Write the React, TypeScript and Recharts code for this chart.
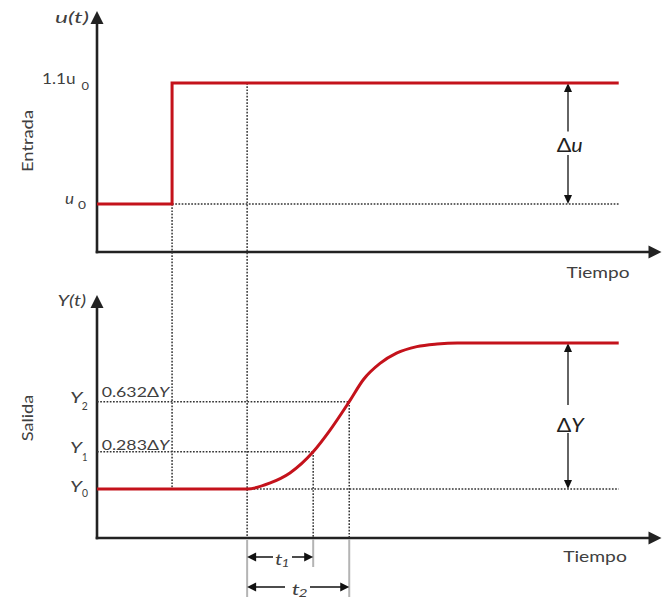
import React from 'react';
import { ComposedChart, Line, XAxis, YAxis, ReferenceLine, ReferenceDot } from 'recharts';

// ---------------- data ----------------
const inputTimes = [0, 1, 1, 6.95];
const inputValues = [1, 1, 1.1, 1.1]; // u0 -> 1.1 u0
const outputTimes = [0, 2, 2.3, 2.57, 2.88, 3.1, 3.36, 3.55, 3.77, 3.99, 4.26, 4.53, 4.8, 6.95];
const outputValues = [0, 0, 0.04, 0.11, 0.255, 0.4, 0.598, 0.75, 0.86, 0.93, 0.975, 0.993, 1, 1];
const stepTime = 1;
const responseStart = 2;
const t1Time = 2.88;
const t2Time = 3.36;
const endTime = 6.95;
const TIME_MAX = 7.5;
const U0 = 1;
const U1 = 1.1;
const Y0 = 0;
const Y1 = 0.255;
const Y2 = 0.598;
const YF = 1;

// ---------------- layout ----------------
const W = 662;
const H = 598;
const PL = 97;
const PR = 660;

function domainFrom(v0: number, p0: number, v1: number, p1: number): [number, number] {
  const k = (p0 - p1) / (v1 - v0);
  return [v0 - (H - p0) / k, v1 + p1 / k];
}
const U_DOMAIN = domainFrom(U0, 204, U1, 83);
const Y_DOMAIN = domainFrom(Y0, 489, YF, 343);
const uAt = (py: number) => U_DOMAIN[1] - (py / H) * (U_DOMAIN[1] - U_DOMAIN[0]);
const yAt = (py: number) => Y_DOMAIN[1] - (py / H) * (Y_DOMAIN[1] - Y_DOMAIN[0]);
const uPx = (u: number) => ((U_DOMAIN[1] - u) / (U_DOMAIN[1] - U_DOMAIN[0])) * H;
const tAt = (px: number) => ((px - PL) / (PR - PL)) * TIME_MAX;

const topAxisU = uAt(252);
const bottomAxisY = yAt(538);

const inputData = inputTimes.map((t, i) => ({ t, u: inputValues[i] }));
const outputData = outputTimes.map((t, i) => ({ t, y: outputValues[i] }));

// ---------------- styles ----------------
const INK = '#222222';
const TXT = '#404040';
const RED = '#c4121b';
const DOT = '#333333';
const GRAY = '#b4b4b4';
const FONT = 'Lato, "Open Sans", sans-serif';

type ArrowOpt = { a?: boolean; b?: boolean; len?: number; half?: number; color: string; width: number; dash?: string; cap?: 'butt' | 'square' };

const arrowLine = (o: ArrowOpt) => (p: any) => {
  const x1 = Number(p.x1), y1 = Number(p.y1), x2 = Number(p.x2), y2 = Number(p.y2);
  const len = o.len ?? 9;
  const half = o.half ?? 4;
  const dx = x2 - x1, dy = y2 - y1;
  const d = Math.hypot(dx, dy) || 1;
  const ux = dx / d, uy = dy / d;
  const tri = (tx: number, ty: number, ddx: number, ddy: number) => {
    const bx = tx - ddx * len, by = ty - ddy * len;
    return `${tx},${ty} ${bx - ddy * half},${by + ddx * half} ${bx + ddy * half},${by - ddx * half}`;
  };
  let sx = x1, sy = y1, ex = x2, ey = y2;
  const heads: string[] = [];
  if (o.a) { heads.push(tri(x1, y1, -ux, -uy)); sx = x1 + ux * len * 0.7; sy = y1 + uy * len * 0.7; }
  if (o.b) { heads.push(tri(x2, y2, ux, uy)); ex = x2 - ux * len * 0.7; ey = y2 - uy * len * 0.7; }
  return (
    <g>
      <line x1={sx} y1={sy} x2={ex} y2={ey} stroke={o.color} strokeWidth={o.width}
        strokeDasharray={o.dash} strokeLinecap={o.cap ?? 'butt'} />
      {heads.map((pts, i) => <polygon key={i} points={pts} fill={o.color} />)}
    </g>
  );
};

type Seg = { axis: 'u' | 'y'; pts: [number, number][]; opt: ArrowOpt };

const axisOpt: ArrowOpt = { b: true, len: 13, half: 6.5, color: INK, width: 2.6, cap: 'square' };
const dotOpt: ArrowOpt = { color: DOT, width: 1.5, dash: '1.7 1.5' };
const dblOpt: ArrowOpt = { b: true, len: 9, half: 4, color: '#111', width: 1.3 };
const barOpt: ArrowOpt = { color: GRAY, width: 2 };
const tOpt: ArrowOpt = { ...dblOpt, width: 1.5, half: 4.5 };

const deltaT = tAt(568);

const segments: Seg[] = [
  // axes
  { axis: 'u', pts: [[0, topAxisU], [0, uAt(11)]], opt: axisOpt },
  { axis: 'u', pts: [[0, topAxisU], [tAt(661.5), topAxisU]], opt: axisOpt },
  { axis: 'y', pts: [[0, bottomAxisY], [0, yAt(295)]], opt: axisOpt },
  { axis: 'y', pts: [[0, bottomAxisY], [tAt(661.5), bottomAxisY]], opt: axisOpt },
  // dotted guides
  { axis: 'u', pts: [[stepTime, U0], [endTime, U0]], opt: dotOpt },
  { axis: 'y', pts: [[stepTime, yAt(uPx(U0))], [stepTime, Y0]], opt: dotOpt },
  { axis: 'y', pts: [[responseStart, yAt(uPx(U1))], [responseStart, bottomAxisY]], opt: dotOpt },
  { axis: 'y', pts: [[0, Y2], [t2Time, Y2]], opt: dotOpt },
  { axis: 'y', pts: [[t2Time, Y2], [t2Time, bottomAxisY]], opt: dotOpt },
  { axis: 'y', pts: [[0, Y1], [t1Time, Y1]], opt: dotOpt },
  { axis: 'y', pts: [[t1Time, Y1], [t1Time, bottomAxisY]], opt: dotOpt },
  { axis: 'y', pts: [[responseStart, Y0], [endTime, Y0]], opt: dotOpt },
  // delta arrows
  { axis: 'u', pts: [[deltaT, uAt(131.5)], [deltaT, U1]], opt: dblOpt },
  { axis: 'u', pts: [[deltaT, uAt(155)], [deltaT, U0]], opt: dblOpt },
  { axis: 'y', pts: [[deltaT, yAt(405)], [deltaT, YF]], opt: dblOpt },
  { axis: 'y', pts: [[deltaT, yAt(433)], [deltaT, Y0]], opt: dblOpt },
  // time bars below axis
  { axis: 'y', pts: [[responseStart, yAt(540)], [responseStart, yAt(597)]], opt: barOpt },
  { axis: 'y', pts: [[t1Time, yAt(539)], [t1Time, yAt(567)]], opt: barOpt },
  { axis: 'y', pts: [[t2Time, yAt(539)], [t2Time, yAt(597)]], opt: barOpt },
  // t1, t2 arrows
  { axis: 'y', pts: [[tAt(273), yAt(557)], [responseStart, yAt(557)]], opt: tOpt },
  { axis: 'y', pts: [[tAt(292), yAt(557)], [t1Time, yAt(557)]], opt: tOpt },
  { axis: 'y', pts: [[tAt(285), yAt(587)], [responseStart, yAt(587)]], opt: tOpt },
  { axis: 'y', pts: [[tAt(310), yAt(587)], [t2Time, yAt(587)]], opt: tOpt },
];

type Lbl = {
  px: number; py: number; text: React.ReactNode; size: number; anchor?: 'start' | 'middle' | 'end';
  italic?: boolean; len?: number; rotate?: boolean; color?: string;
};

const labels: Lbl[] = [
  { px: 89, py: 22.5, text: 'u(t)', size: 15, anchor: 'end', italic: true, len: 34 },
  { px: 75.5, py: 83.5, text: '1.1u', size: 15.5, anchor: 'end', len: 33.5 },
  { px: 81.5, py: 90, text: '0', size: 11.5, len: 7.5 },
  { px: 65, py: 203.5, text: 'u', size: 16, italic: true, len: 9 },
  { px: 78, py: 208.5, text: '0', size: 12, len: 8 },
  { px: 33, py: 141, text: 'Entrada', size: 15, anchor: 'middle', rotate: true, len: 62 },
  { px: 598, py: 277.5, text: 'Tiempo', size: 14.5, anchor: 'middle', len: 63 },
  { px: 86, py: 306, text: 'Y(t)', size: 15, anchor: 'end', italic: true, len: 28.5 },
  { px: 70, py: 403, text: 'Y', size: 15, italic: true, len: 12.5 },
  { px: 81.7, py: 410, text: '2', size: 11, len: 6 },
  { px: 70, py: 453, text: 'Y', size: 15, italic: true, len: 12 },
  { px: 82, py: 460.7, text: '1', size: 11, len: 5.5 },
  { px: 70, py: 491.5, text: 'Y', size: 15, italic: true, len: 12 },
  { px: 82, py: 497, text: '0', size: 11, len: 6 },
  { px: 101.7, py: 396.5, text: <>0.632Δ<tspan fontStyle="italic">Y</tspan></>, size: 14, len: 67.5 },
  { px: 101.7, py: 450, text: <>0.283Δ<tspan fontStyle="italic">Y</tspan></>, size: 14, len: 67.5 },
  { px: 569.7, py: 151.5, text: <>Δ<tspan fontStyle="italic">u</tspan></>, size: 18.5, anchor: 'middle', len: 26, color: '#222' },
  { px: 570.3, py: 431.5, text: <>Δ<tspan fontStyle="italic">Y</tspan></>, size: 19, anchor: 'middle', len: 27, color: '#222' },
  { px: 595, py: 561.5, text: 'Tiempo', size: 14.5, anchor: 'middle', len: 63.7 },
  { px: 33.3, py: 418, text: 'Salida', size: 15, anchor: 'middle', rotate: true, len: 46.7 },
  { px: 275, py: 565, text: 't', size: 16, italic: true, len: 7.5 },
  { px: 281.5, py: 567.3, text: '1', size: 12, italic: true, len: 8 },
  { px: 291.7, py: 594.5, text: 't', size: 16, italic: true, len: 8 },
  { px: 298.5, py: 596.5, text: '2', size: 12, italic: true, len: 9 },
];

const textShape = (l: Lbl) => (p: any) => {
  const cx = Number(p.cx), cy = Number(p.cy);
  return (
    <text
      x={cx}
      y={cy}
      textAnchor={l.anchor ?? 'start'}
      fontFamily={FONT}
      fontSize={l.size}
      fontStyle={l.italic ? 'italic' : 'normal'}
      fill={l.color ?? TXT}
      textLength={l.len}
      lengthAdjust={l.len ? 'spacingAndGlyphs' : undefined}
      transform={l.rotate ? `rotate(-90, ${cx}, ${cy})` : undefined}
    >
      {l.text}
    </text>
  );
};

export default function App() {
  return (
    <div style={{ position: 'absolute', left: 0, top: 0, width: W, height: H, background: '#fff' }}>
      <ComposedChart width={W} height={H} margin={{ top: 0, right: W - PR, bottom: 0, left: PL }}>
        <XAxis xAxisId={0} type="number" dataKey="t" domain={[0, TIME_MAX]} allowDataOverflow hide />
        <YAxis yAxisId="u" type="number" domain={U_DOMAIN} allowDataOverflow hide />
        <YAxis yAxisId="y" type="number" domain={Y_DOMAIN} allowDataOverflow hide />
        {segments.map((s, i) => (
          <ReferenceLine
            key={`s${i}`}
            yAxisId={s.axis}
            segment={[{ x: s.pts[0][0], y: s.pts[0][1] }, { x: s.pts[1][0], y: s.pts[1][1] }]}
            ifOverflow="visible"
            shape={arrowLine(s.opt)}
          />
        ))}
        <Line yAxisId="u" data={inputData} dataKey="u" type="linear" stroke={RED} strokeWidth={3}
          dot={false} activeDot={false} isAnimationActive={false} strokeLinejoin="miter" />
        <Line yAxisId="y" data={outputData} dataKey="y" type="monotone" stroke={RED} strokeWidth={3}
          dot={false} activeDot={false} isAnimationActive={false} />
        {labels.map((l, i) => (
          <ReferenceDot
            key={`l${i}`}
            yAxisId="u"
            x={tAt(l.px)}
            y={uAt(l.py)}
            r={0}
            ifOverflow="visible"
            shape={textShape(l)}
          />
        ))}
      </ComposedChart>
    </div>
  );
}
